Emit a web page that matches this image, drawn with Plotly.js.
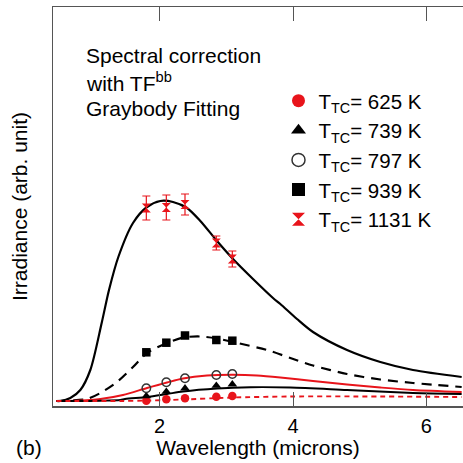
<!DOCTYPE html>
<html>
<head>
<meta charset="utf-8">
<script src="https://cdn.plot.ly/plotly-3.0.1.min.js"></script>
<style>html,body{margin:0;padding:0;background:#fff;}#chart{width:463px;height:463px;}</style>
</head>
<body>
<div id="chart"></div>
<script>
// Measured wavelengths (microns)
var wavelengths = [1.8, 2.1, 2.38, 2.85, 3.09];

// Measured irradiance (arb. unit) per thermocouple temperature
var meas625 = [0.003, 0.017, 0.027, 0.043, 0.05];
var meas739 = [0.05, 0.093, 0.127, 0.153, 0.167];
var meas797 = [0.127, 0.187, 0.227, 0.26, 0.27];
var meas939 = [0.487, 0.583, 0.655, 0.61, 0.603];
var meas1131 = [1.93, 1.935, 1.965, 1.58, 1.42];
var err1131 = [0.12, 0.125, 0.105, 0.07, 0.08];

// Graybody fit curves
var fit1131X = [0.45, 0.51, 0.66, 0.81, 0.96, 1.13, 1.24, 1.38, 1.60, 1.81, 2.01, 2.20, 2.41, 2.61, 2.86, 3.10, 3.40, 3.70, 3.81, 4.06, 4.30, 4.81, 5.31, 5.80, 6.53];
var fit1131Y = [0.0, 0.0, 0.03, 0.11, 0.31, 0.78, 1.11, 1.44, 1.78, 1.94, 2.00, 1.99, 1.93, 1.80, 1.60, 1.42, 1.22, 1.03, 0.97, 0.82, 0.69, 0.51, 0.39, 0.31, 0.24];

var fit939X = [0.45, 0.66, 0.91, 1.11, 1.36, 1.60, 1.81, 2.11, 2.35, 2.61, 2.86, 3.10, 3.61, 3.96, 4.30, 4.81, 5.31, 5.80, 6.53];
var fit939Y = [0.0, 0.005, 0.02, 0.08, 0.19, 0.34, 0.48, 0.58, 0.635, 0.645, 0.625, 0.59, 0.51, 0.43, 0.355, 0.27, 0.215, 0.18, 0.14];

var fit797X = [0.45, 0.61, 1.11, 1.45, 1.81, 2.11, 2.35, 2.71, 3.10, 3.46, 3.81, 4.30, 4.81, 5.31, 5.80, 6.53];
var fit797Y = [0.0, 0.0, 0.02, 0.06, 0.13, 0.185, 0.225, 0.255, 0.262, 0.255, 0.235, 0.20, 0.165, 0.135, 0.11, 0.09];

var fit739X = [0.45, 1.11, 1.41, 1.48, 1.81, 2.11, 2.35, 2.86, 3.36, 3.96, 4.81, 5.80, 6.53];
var fit739Y = [0.0, 0.003, 0.01, 0.02, 0.04, 0.07, 0.095, 0.125, 0.138, 0.135, 0.11, 0.08, 0.07];

var fit625X = [0.45, 1.41, 1.86, 2.35, 3.10, 3.96, 5.31, 6.53];
var fit625Y = [0.0, 0.0, 0.005, 0.015, 0.035, 0.045, 0.045, 0.04];

var legendNames = ["T<sub>TC</sub>= 625 K", "T<sub>TC</sub>= 739 K", "T<sub>TC</sub>= 797 K", "T<sub>TC</sub>= 939 K", "T<sub>TC</sub>= 1131 K"];
var xTickVals = [2, 4, 6];
var xTickText = ["2", "4", "6"];

var RED = "#e8141b";
var FONT = "Liberation Sans, Arial, sans-serif";

var symbols = ["circle", "triangle-up", "circle-open", "square", "hourglass"];
var symColors = [RED, "#000", "#333", "#000", RED];
var measSeries = [meas625, meas739, meas797, meas939, meas1131];

function fitLine(x, y, color, width, dash) {
  return {x: x, y: y, type: "scatter", mode: "lines", showlegend: false, hoverinfo: "skip",
          line: {color: color, width: width, dash: dash, shape: "spline", smoothing: 0.8}};
}

var traces = [
  fitLine(fit1131X, fit1131Y, "#000", 2.2, "solid"),
  fitLine(fit939X, fit939Y, "#000", 2.2, "10px,7px"),
  fitLine(fit797X, fit797Y, RED, 1.9, "solid"),
  fitLine(fit739X, fit739Y, "#000", 1.9, "solid"),
  fitLine(fit625X, fit625Y, RED, 1.9, "5px,4px")
];

// measured points (no legend entry; legend drawn by larger legend-only markers)
for (var i = 0; i < 5; i++) {
  var t = {x: wavelengths, y: measSeries[i], type: "scatter", mode: "markers", showlegend: false,
           marker: {symbol: symbols[i], size: (i === 4 ? 9 : 8.5), color: symColors[i],
                    line: {width: (i === 2 ? 1.4 : 0), color: "#333"}}};
  if (i === 4) {
    t.error_y = {type: "data", array: err1131, visible: true, color: RED, thickness: 1.2, width: 4};
  }
  traces.push(t);
}
for (var j = 0; j < 5; j++) {
  traces.push({x: [null], y: [null], type: "scatter", mode: "markers", name: legendNames[j],
               legendgroup: "g" + j, showlegend: true,
               marker: {symbol: symbols[j], size: 13, color: symColors[j],
                        line: {width: (j === 2 ? 1.5 : 0), color: "#000"}}});
}

var layout = {
  width: 463, height: 463,
  margin: {l: 53, r: 0, t: 7, b: 57},
  paper_bgcolor: "#fff", plot_bgcolor: "#fff",
  font: {family: FONT, size: 21, color: "#000"},
  showlegend: true,
  legend: {x: 0.55, xanchor: "left", y: 0.815, yanchor: "top", bgcolor: "rgba(0,0,0,0)",
           font: {family: FONT, size: 20.5, color: "#000"}, tracegroupgap: 0},
  xaxis: {range: [0.4, 6.55], tickvals: xTickVals, ticktext: xTickText, ticks: "inside", ticklen: 14,
          tickwidth: 1, tickcolor: "#555", showline: true, linecolor: "#555", linewidth: 1.5, mirror: "ticks",
          showgrid: false, zeroline: false, tickfont: {family: FONT, size: 20}, ticklabelstandoff: 1,
          title: {text: "Wavelength (microns)", font: {family: FONT, size: 21}, standoff: 0}},
  yaxis: {range: [-0.05, 3.94], showticklabels: false, ticks: "", showline: true, linecolor: "#555",
          linewidth: 1.5, showgrid: false, zeroline: false,
          title: {text: "Irradiance (arb. unit)", font: {family: FONT, size: 21}, standoff: 18}},
  annotations: [
    {x: 0.86, y: 3.46, xref: "x", yref: "y", text: "Spectral correction", showarrow: false, xanchor: "left", yanchor: "middle", font: {size: 21}},
    {x: 0.86, y: 3.19, xref: "x", yref: "y", text: "with TF<sup>bb</sup>", showarrow: false, xanchor: "left", yanchor: "middle", font: {size: 21}},
    {x: 0.86, y: 2.93, xref: "x", yref: "y", text: "Graybody Fitting", showarrow: false, xanchor: "left", yanchor: "middle", font: {size: 21}},
    {x: -0.0585, y: -0.105, xref: "paper", yref: "paper", text: "(b)", showarrow: false, xanchor: "center", yanchor: "middle", font: {size: 21}}
  ]
};

Plotly.newPlot("chart", traces, layout, {displayModeBar: false, staticPlot: true});
</script>
</body>
</html>
